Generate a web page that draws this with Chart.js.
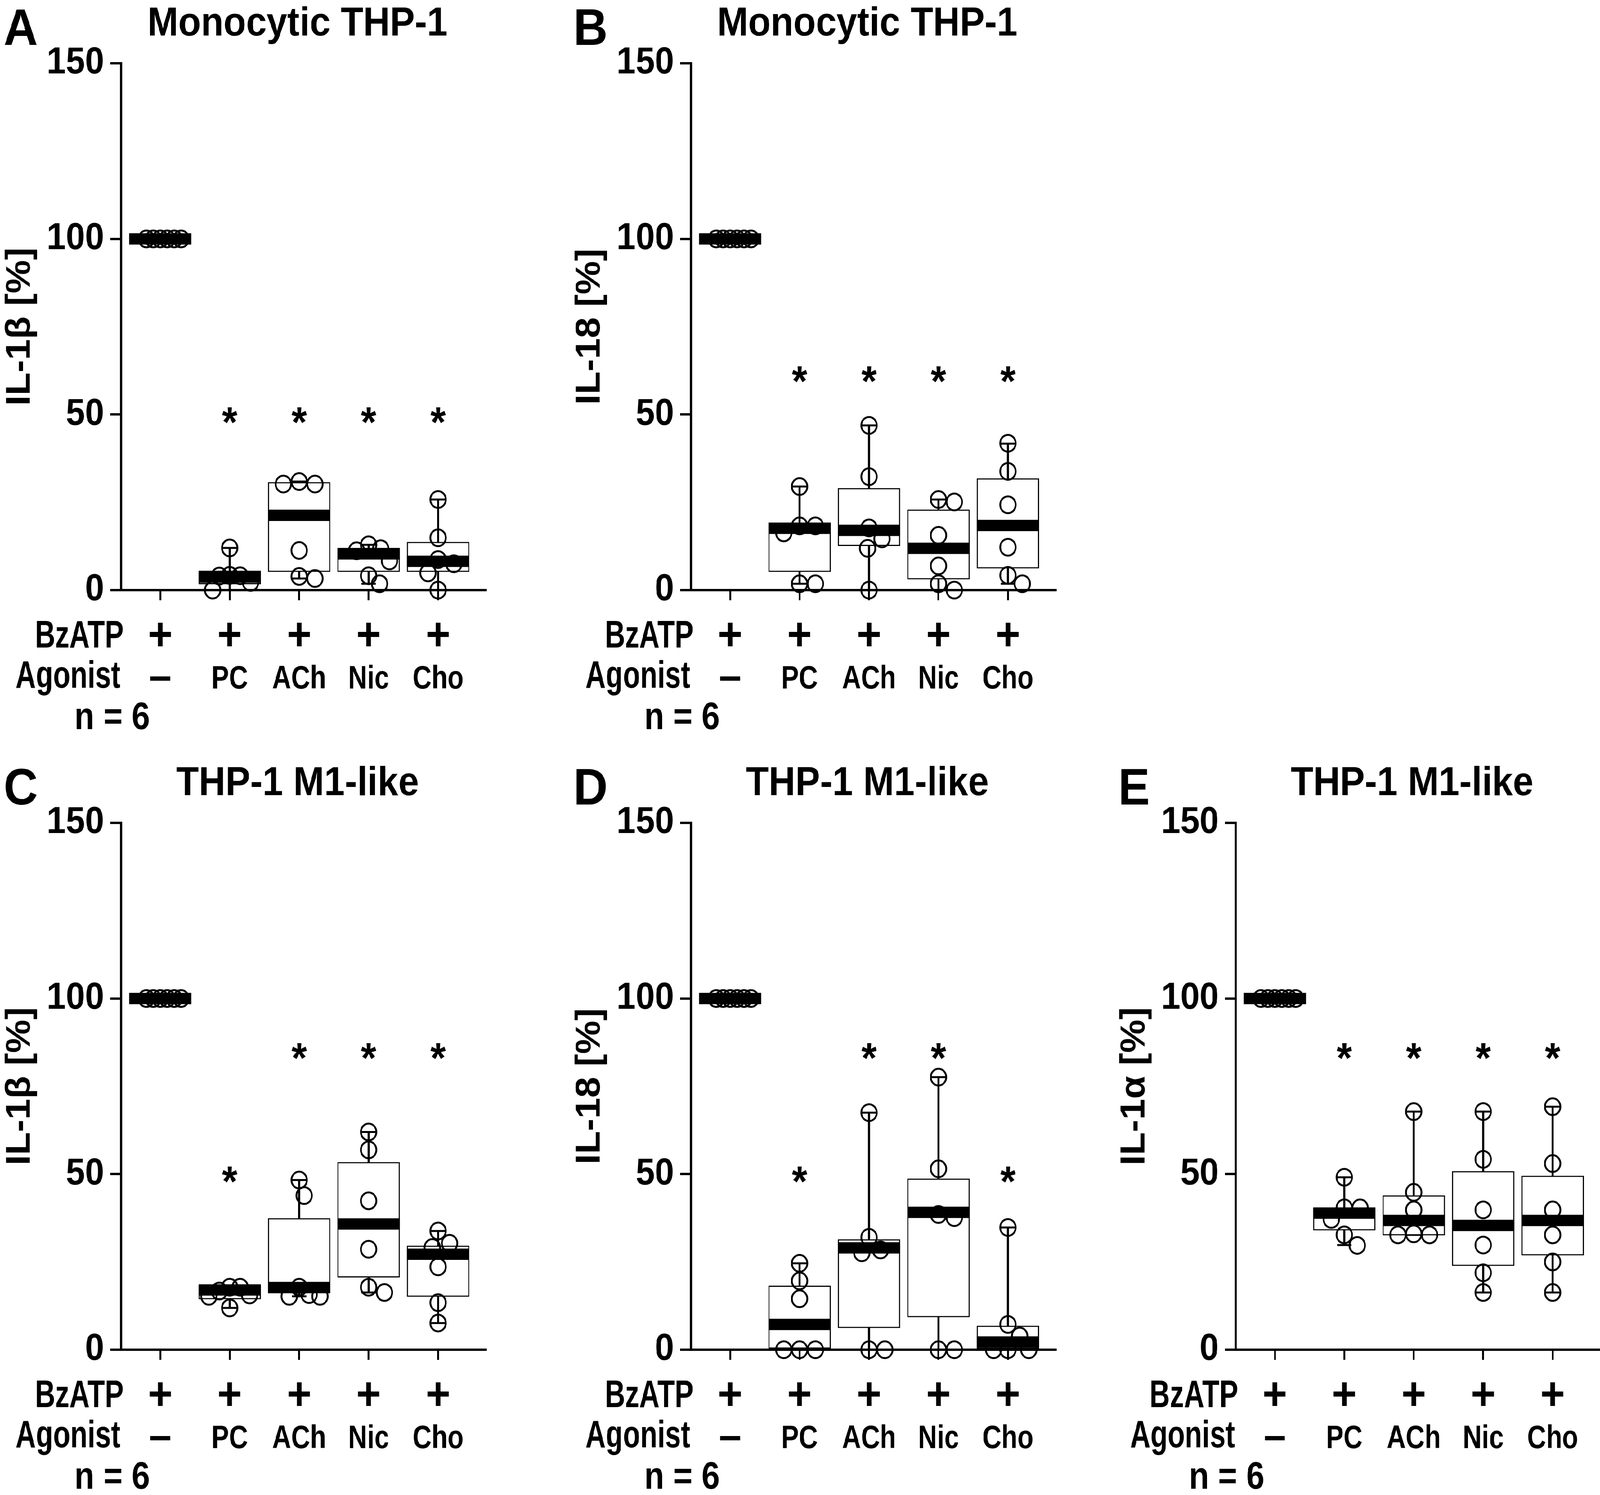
<!DOCTYPE html>
<html>
<head>
<meta charset="utf-8">
<title>THP-1 cytokine release</title>
<script src="https://cdn.jsdelivr.net/npm/chart.js@4.4.1/dist/chart.umd.min.js"></script>
<style>
  html, body { margin: 0; padding: 0; background: #fff; overflow: hidden; }
  #wrap { position: absolute; left: 0; top: 0; width: 4453px; height: 3828px; transform-origin: 0 0; background: #fff; }
  canvas { position: absolute; }
</style>
</head>
<body>
<div id="wrap"></div>
<script>
// ---------- data ----------
const groups = ['–', 'PC', 'ACh', 'Nic', 'Cho'];
const bzatp = ['+', '+', '+', '+', '+'];
const yTicks = [0, 50, 100, 150];

// A: IL-1beta, monocytic THP-1
const aPoints = [
  [100, 100, 100, 100, 100, 100],
  [12.0, 4.2, 4.1, 4.0, 2.2, 0],
  [30.9, 30.2, 30.2, 11.3, 3.9, 3.3],
  [12.9, 11.8, 11.2, 8.3, 4.1, 1.8],
  [25.8, 14.9, 8.7, 7.5, 4.9, 0]
];
const aMin = [100, 0, 3.3, 1.8, 0];
const aQ1 = [100, 1.7, 5.2, 5.2, 5.2];
const aMed = [100, 3.7, 21.3, 10.3, 8.2];
const aQ3 = [100, 5.5, 30.7, 12.0, 13.7];
const aMax = [100, 12.0, 30.9, 12.9, 25.8];
const aStars = [null, 50.6, 50.6, 50.6, 50.6];

// B: IL-18, monocytic THP-1
const bPoints = [
  [100, 100, 100, 100, 100, 100],
  [29.5, 18.3, 18.3, 16.3, 1.8, 1.8],
  [46.9, 32.3, 17.7, 14.6, 11.9, 0],
  [25.8, 25.1, 15.6, 6.9, 1.8, 0],
  [41.8, 33.8, 24.3, 12.2, 4.2, 1.8]
];
const bMin = [100, 1.8, 0, 0, 1.8];
const bQ1 = [100, 5.2, 12.6, 3.1, 6.2];
const bMed = [100, 17.6, 17.0, 11.9, 18.4];
const bQ3 = [100, 19.2, 29.0, 22.9, 31.8];
const bMax = [100, 29.5, 46.9, 25.8, 41.7];
const bStars = [null, 62.3, 62.3, 62.3, 62.3];

// C: IL-1beta, THP-1 M1-like
const cPoints = [
  [100, 100, 100, 100, 100, 100],
  [17.8, 17.8, 16.7, 15.6, 15.2, 11.9],
  [48.3, 43.9, 17.8, 15.7, 15.2, 15.2],
  [62.0, 56.9, 42.4, 28.6, 17.8, 16.3],
  [33.8, 30.3, 29.1, 23.6, 13.4, 7.6]
];
const cMin = [100, 11.9, 15.2, 16.3, 7.6];
const cQ1 = [100, 14.4, 16.1, 20.6, 15.1];
const cMed = [100, 17.0, 17.7, 35.8, 27.2];
const cQ3 = [100, 18.3, 37.4, 53.4, 29.6];
const cMax = [100, 18.3, 48.3, 62.0, 33.8];
const cStars = [null, 50.7, 85.8, 85.8, 85.8];

// D: IL-18, THP-1 M1-like
const dPoints = [
  [100, 100, 100, 100, 100, 100],
  [24.6, 19.6, 14.5, 0, 0, 0],
  [67.5, 32.0, 28.4, 27.6, 0, 0],
  [77.6, 51.5, 38.5, 37.6, 0, 0],
  [34.8, 7.2, 3.9, 0, 0, 0]
];
const dMin = [100, 0, 0, 0, 0];
const dQ1 = [100, 0, 6.2, 9.3, 0.3];
const dMed = [100, 7.2, 29.0, 39.1, 2.2];
const dQ3 = [100, 18.2, 31.4, 48.7, 6.8];
const dMax = [100, 24.6, 67.5, 77.6, 34.8];
const dStars = [null, 50.7, 85.8, 85.8, 50.7];

// E: IL-1alpha, THP-1 M1-like
const ePoints = [
  [100, 100, 100, 100, 100, 100],
  [49.1, 40.4, 40.4, 37.1, 32.7, 29.7],
  [67.8, 44.8, 39.8, 33.0, 32.7, 32.7],
  [67.8, 54.2, 39.8, 29.8, 21.9, 16.3],
  [69.2, 53.0, 39.8, 32.7, 25.0, 16.3]
];
const eMin = [100, 29.8, 32.7, 16.3, 16.3];
const eQ1 = [100, 34.0, 32.6, 23.9, 26.9];
const eMed = [100, 38.9, 36.8, 35.4, 36.8];
const eQ3 = [100, 40.5, 43.9, 50.8, 49.5];
const eMax = [100, 49.1, 67.8, 67.8, 69.2];
const eStars = [null, 85.8, 85.8, 85.8, 85.8];

// ---------- layout (in 4453 x 3828 figure pixels) ----------
const FONT = '"Liberation Sans", Arial, Helvetica, sans-serif';
const CW = 1360, CH = 1883;
const AXIS_LEFT = 337, PLOT_TOP = 162, PLOT_BOTTOM = 1511, PLOT_W = 1015;
const PX_PER_CAT = 193.3, PX_PER_UNIT = 1349 / 150;

// the figure is laid out at 4453 x 3828, then fitted to the real viewport
const wrap = document.getElementById('wrap');
const sx = window.innerWidth / 4453, sy = window.innerHeight / 3828;
wrap.style.transform = 'scale(' + sx + ',' + sy + ')';

const panels = [
  { letter: 'A', title: 'Monocytic THP-1', yTitle: 'IL-1β [%]', left: 0, top: 0,
    pts: aPoints, min: aMin, q1: aQ1, med: aMed, q3: aQ3, max: aMax, stars: aStars },
  { letter: 'B', title: 'Monocytic THP-1', yTitle: 'IL-18 [%]', left: 1586, top: 0,
    pts: bPoints, min: bMin, q1: bQ1, med: bMed, q3: bQ3, max: bMax, stars: bStars },
  { letter: 'C', title: 'THP-1 M1-like', yTitle: 'IL-1β [%]', left: 0, top: 1945,
    pts: cPoints, min: cMin, q1: cQ1, med: cMed, q3: cQ3, max: cMax, stars: cStars },
  { letter: 'D', title: 'THP-1 M1-like', yTitle: 'IL-18 [%]', left: 1586, top: 1945,
    pts: dPoints, min: dMin, q1: dQ1, med: dMed, q3: dQ3, max: dMax, stars: dStars },
  { letter: 'E', title: 'THP-1 M1-like', yTitle: 'IL-1α [%]', left: 3102, top: 1945,
    pts: ePoints, min: eMin, q1: eQ1, med: eMed, q3: eQ3, max: eMax, stars: eStars }
];

// spread points of one group sideways so circles don't sit on top of each other
function spread(values, xi) {
  const STEP = 4, MIN_DIST = 44, MAX_SPREAD = 58;
  const order = values.map((v, k) => k).sort((a, b) => values[b] - values[a]);
  const placed = [];
  const offs = new Array(values.length).fill(0);
  order.forEach(k => {
    const v = values[k];
    let off = 0;
    for (let s = 0; s < 100; s++) {
      const cand = s === 0 ? 0 : (s % 2 ? 1 : -1) * Math.ceil(s / 2) * STEP;
      const ok = placed.every(p => Math.hypot(cand - p.dx, (v - p.v) * PX_PER_UNIT) >= MIN_DIST);
      if (ok) { off = cand; break; }
    }
    placed.push({ dx: off, v: v });
    offs[k] = off;
  });
  const maxAbs = Math.max(...offs.map(Math.abs));
  const f = maxAbs > MAX_SPREAD ? MAX_SPREAD / maxAbs : 1;
  return values.map((v, k) => ({ x: xi + offs[k] * f / PX_PER_CAT, y: v }));
}

function squeezed(ctx, text, x, y, scaleX, align) {
  ctx.save();
  ctx.translate(x, y);
  ctx.scale(scaleX, 1);
  ctx.textAlign = align;
  ctx.fillText(text, 0, 0);
  ctx.restore();
}

function textPlugin(p) {
  return {
    id: 'panelText' + p.letter,
    afterDraw(chart) {
      const ctx = chart.ctx;
      const ca = chart.chartArea;
      const xs = chart.scales.x, ys = chart.scales.y;
      ctx.save();
      ctx.fillStyle = '#000';
      ctx.textBaseline = 'alphabetic';

      // panel letter and title
      ctx.font = 'bold 132px ' + FONT;
      ctx.textAlign = 'left';
      ctx.fillText(p.letter, ca.left - 327, ca.top - 47);
      ctx.font = 'bold 103px ' + FONT;
      ctx.textAlign = 'center';
      ctx.fillText(p.title, ca.left + 491, ca.top - 71);

      // y axis title
      ctx.save();
      ctx.translate(ca.left - 254, (ca.top + ca.bottom) / 2);
      ctx.rotate(-Math.PI / 2);
      ctx.font = 'bold 96px ' + FONT;
      ctx.textAlign = 'center';
      ctx.fillText(p.yTitle, 0, 0);
      ctx.restore();

      // significance stars
      ctx.font = 'bold 110px ' + FONT;
      ctx.textAlign = 'center';
      p.stars.forEach((s, i) => {
        if (s === null) return;
        ctx.fillText('*', xs.getPixelForValue(i), ys.getPixelForValue(s) + 62);
      });

      // treatment rows under the axis
      ctx.font = 'bold 98px ' + FONT;
      squeezed(ctx, 'BzATP', ca.left + 7, ca.bottom + 147, 0.8, 'right');
      squeezed(ctx, 'Agonist', ca.left - 2, ca.bottom + 250, 0.8, 'right');
      squeezed(ctx, 'n = 6', ca.left - 25, ca.bottom + 356, 0.93, 'center');

      ctx.font = 'bold 118px ' + FONT;
      ctx.textAlign = 'center';
      bzatp.forEach((t, i) => ctx.fillText(t, xs.getPixelForValue(i), ca.bottom + 153));

      groups.forEach((g, i) => {
        const x = xs.getPixelForValue(i);
        if (i === 0) {
          ctx.font = 'bold 112px ' + FONT;
          ctx.textAlign = 'center';
          ctx.fillText(g, x, ca.bottom + 256);
        } else {
          ctx.font = 'bold 84px ' + FONT;
          squeezed(ctx, g, x, ca.bottom + 252, 0.87, 'center');
        }
      });
      ctx.restore();
    }
  };
}

function makePanel(p) {
  const canvas = document.createElement('canvas');
  canvas.width = CW;
  canvas.height = CH;
  canvas.style.width = CW + 'px';
  canvas.style.height = CH + 'px';
  canvas.style.left = p.left + 'px';
  canvas.style.top = p.top + 'px';
  wrap.appendChild(canvas);

  const points = [];
  p.pts.forEach((vals, i) => points.push(...spread(vals, i)));
  const medians = p.med.map((m, i) => ({ x: i, y: m }));
  const boxes = p.q1.map((q, i) => ({ x: i, y: [q, p.q3[i]] }));
  const whiskers = p.min.map((m, i) => ({ x: i, y: [m, p.max[i]] }));
  const caps = p.min.map((m, i) => ({ x: i, y: m })).concat(p.max.map((m, i) => ({ x: i, y: m })));

  new Chart(canvas, {
    type: 'bar',
    data: {
      datasets: [
        { type: 'scatter', data: points, order: 1, clip: false,
          pointStyle: 'circle', pointRadius: 21.5, pointHoverRadius: 21.5,
          pointBorderWidth: 5, pointBorderColor: '#000', pointBackgroundColor: 'rgba(0,0,0,0)' },
        { type: 'scatter', data: medians, order: 2, clip: false,
          pointStyle: 'line', pointRadius: 86.5, pointHoverRadius: 86.5,
          pointBorderWidth: 29, pointBorderColor: '#000', pointBackgroundColor: '#000' },
        { type: 'bar', data: boxes, order: 3, clip: false, grouped: false,
          barThickness: 173, backgroundColor: '#fff', borderColor: '#000',
          borderWidth: 3, borderSkipped: false },
        { type: 'scatter', data: caps, order: 4, clip: false,
          pointStyle: 'line', pointRadius: 20, pointHoverRadius: 20,
          pointBorderWidth: 5, pointBorderColor: '#000' },
        { type: 'bar', data: whiskers, order: 5, clip: false, grouped: false,
          barThickness: 5, backgroundColor: '#000', borderWidth: 0 }
      ]
    },
    options: {
      responsive: false,
      devicePixelRatio: 1,
      animation: false,
      events: [],
      layout: {
        autoPadding: false,
        padding: { left: 0, top: PLOT_TOP, right: CW - AXIS_LEFT - PLOT_W, bottom: 0 }
      },
      plugins: { legend: { display: false }, tooltip: { enabled: false } },
      scales: {
        x: {
          type: 'linear',
          offset: false,
          min: -0.564,
          max: PLOT_W / PX_PER_CAT - 0.564,
          afterBuildTicks: s => { s.ticks = groups.map((g, i) => ({ value: i })); },
          afterFit: s => { s.height = CH - PLOT_BOTTOM; },
          ticks: { display: false },
          grid: { offset: false, drawOnChartArea: false, drawTicks: true, tickLength: 26, color: '#000', lineWidth: 5 },
          border: { display: true, color: '#000', width: 6 }
        },
        y: {
          min: 0,
          max: 150,
          afterBuildTicks: s => { s.ticks = yTicks.map(v => ({ value: v })); },
          afterFit: s => { s.width = AXIS_LEFT; },
          ticks: { color: '#000', padding: 17, font: { family: FONT, size: 96, weight: 'bold' } },
          grid: { drawOnChartArea: false, drawTicks: true, tickLength: 30, color: '#000', lineWidth: 6 },
          border: { display: true, color: '#000', width: 6 }
        }
      }
    },
    plugins: [textPlugin(p)]
  });
}

panels.forEach(makePanel);
</script>
</body>
</html>
